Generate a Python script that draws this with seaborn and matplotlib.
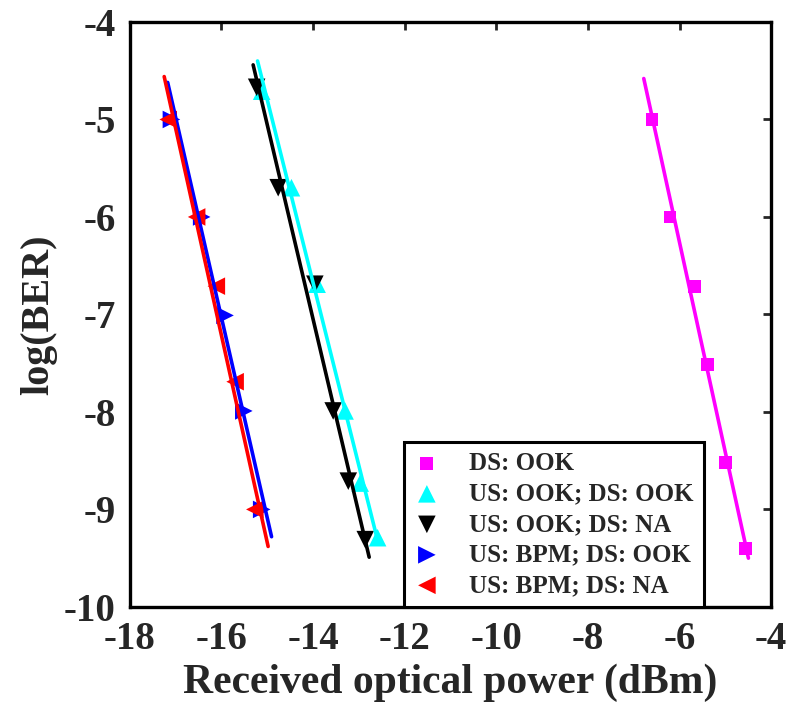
import numpy as np
import pandas as pd
import matplotlib
matplotlib.use("Agg")
import matplotlib.pyplot as plt
import seaborn as sns

# values
labels = ["DS: OOK", "US: OOK; DS: OOK", "US: OOK; DS: NA",
          "US: BPM; DS: OOK", "US: BPM; DS: NA"]
colors = ["#ff00ff", "#00ffff", "#000000", "#0000ff", "#ff0000"]
markers = ["s", "^", "v", ">", "<"]

ds_ook_x = [-6.60, -6.21, -5.67, -5.39, -4.99, -4.56]
ds_ook_y = [-5.0, -6.0, -6.71, -7.51, -8.52, -9.40]

us_ook_ds_ook_x = [-15.12, -14.47, -13.91, -13.30, -12.97, -12.59]
us_ook_ds_ook_y = [-4.71, -5.70, -6.69, -7.99, -8.73, -9.29]

us_ook_ds_na_x = [-15.23, -14.76, -13.96, -13.56, -13.23, -12.86]
us_ook_ds_na_y = [-4.67, -5.70, -6.69, -7.99, -8.71, -9.31]

us_bpm_ds_ook_x = [-17.09, -16.43, -15.92, -15.51, -15.12]
us_bpm_ds_ook_y = [-5.0, -6.0, -7.01, -7.99, -9.0]

us_bpm_ds_na_x = [-17.16, -16.54, -16.11, -15.70, -15.27]
us_bpm_ds_na_y = [-5.0, -6.0, -6.71, -7.69, -9.0]

# log(BER) range covered by each fitted line
fit_top = [-4.58, -4.40, -4.44, -4.62, -4.56]
fit_bottom = [-9.50, -9.31, -9.49, -9.28, -9.38]

xs = [ds_ook_x, us_ook_ds_ook_x, us_ook_ds_na_x, us_bpm_ds_ook_x, us_bpm_ds_na_x]
ys = [ds_ook_y, us_ook_ds_ook_y, us_ook_ds_na_y, us_bpm_ds_ook_y, us_bpm_ds_na_y]

sns.set_theme(style="white")
plt.rcParams['font.family'] = ['Liberation Serif', 'DejaVu Serif']
plt.rcParams['font.weight'] = 'bold'
plt.rcParams['axes.unicode_minus'] = False

fig = plt.figure(figsize=(7.91, 7.09), dpi=100)
ax = fig.add_axes([0.164, 0.144, 0.811, 0.825])

for i in range(len(labels)):
    df = pd.DataFrame({'x': xs[i], 'y': ys[i]})
    sns.scatterplot(data=df, x='x', y='y', ax=ax, marker=markers[i],
                    color=colors[i], s=160 if markers[i] != 's' else 85,
                    edgecolor='none', label=labels[i], zorder=2)
    # linear fit of power against log(BER)
    a, c = np.polyfit(ys[i], xs[i], 1)
    fy = np.array([fit_top[i], fit_bottom[i]])
    line = pd.DataFrame({'x': a * fy + c, 'y': fy})
    ax.plot(line['x'], line['y'], color=colors[i], linewidth=2.6, zorder=3)

ax.set_xlim(-18, -4)
ax.set_ylim(-10, -4)
ax.set_xticks(range(-18, -3, 2))
ax.set_yticks(range(-10, -3, 1))
ax.tick_params(direction='in', length=6, width=2, labelsize=28, pad=10,
               top=True, right=True)
for lab in ax.get_xticklabels() + ax.get_yticklabels():
    lab.set_fontweight('bold')
for sp in ax.spines.values():
    sp.set_linewidth(2.4)
    sp.set_color('black')

ax.set_xlabel('Received optical power (dBm)', fontsize=30, fontweight='bold', labelpad=4)
ax.set_ylabel('log(BER)', fontsize=29, fontweight='bold', labelpad=5)

leg = ax.legend(loc='lower right', bbox_to_anchor=(0.895, 0.0), fontsize=18,
                frameon=True, fancybox=False, edgecolor='black', framealpha=1,
                borderaxespad=0, handletextpad=1.2, labelspacing=0.3,
                borderpad=0.4, handlelength=1.0)
leg.get_frame().set_linewidth(2.2)
for t in leg.get_texts():
    t.set_fontweight('bold')

fig.savefig('out.png', dpi=100)
